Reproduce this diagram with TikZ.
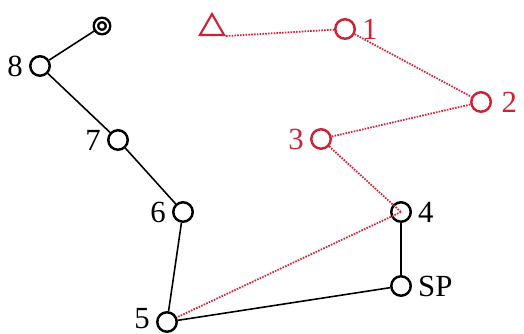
\documentclass[tikz,border=0pt]{standalone}
\usepackage{fontspec}
\setmainfont{Liberation Serif}
\usetikzlibrary{shapes.geometric, positioning}
\definecolor{tourred}{RGB}{205,35,55}
\tikzstyle{stop} = [circle, draw=black, line width=1.4pt, minimum size=0.39cm, inner sep=0pt, label distance=-2pt]
\tikzstyle{redstop} = [stop, draw=tourred, text=tourred]
\tikzstyle{depot} = [circle, draw=black, line width=1.4pt, double, double distance=1.1pt, minimum size=0.24cm, inner sep=0pt]
\tikzstyle{goal} = [regular polygon, regular polygon sides=3, draw=tourred, line width=1.2pt, minimum size=0.56cm, inner sep=0pt]
\tikzstyle{route} = [line width=0.9pt]
\tikzstyle{detour} = [line width=1pt, tourred, dash pattern=on 0.9pt off 0.7pt]

\begin{document}
\begin{tikzpicture}[x=0.02cm, y=-0.02cm, font=\fontsize{17.5}{17.5}\selectfont]
    \useasboundingbox (0,0) rectangle (524,334);
    % black tour
    \node (start) [depot] at (102,26) {};
    \node (n8) [stop, label=left:8] at (40,66) {};
    \node (n7) [stop, label=left:7] at (118,140) {};
    \node (n6) [stop, label=left:6] at (183,212) {};
    \node (n5) [stop, label={[yshift=2pt]left:5}] at (167,322) {};
    \node (sp) [stop, label=right:SP] at (401,286) {};
    \node (n4) [stop, label=right:4] at (401,212) {};
    % red tour
    \node (end) [goal] at (212,28) {};
    \node (n1) [redstop, label={[tourred]right:1}] at (345,29) {};
    \node (n2) [redstop, label={[tourred, label distance=2pt]right:2}] at (481,102) {};
    \node (n3) [redstop, label={[tourred]left:3}] at (321,139) {};

    \draw [route] (start) -- (n8);
    \draw [route] (n8) -- (n7);
    \draw [route] (n7) -- (n6);
    \draw [route] (n6) -- (n5);
    \draw [route] (n5) -- (sp);
    \draw [route] (sp) -- (n4);

    \draw [detour] (end.corner 3) -- (n1);
    \draw [detour] (n1) -- (n2);
    \draw [detour] (n2) -- (n3);
    \draw [detour] (n3) -- (n4.center);
    \draw [detour] (n4.center) -- (n5);
\end{tikzpicture}
\end{document}
